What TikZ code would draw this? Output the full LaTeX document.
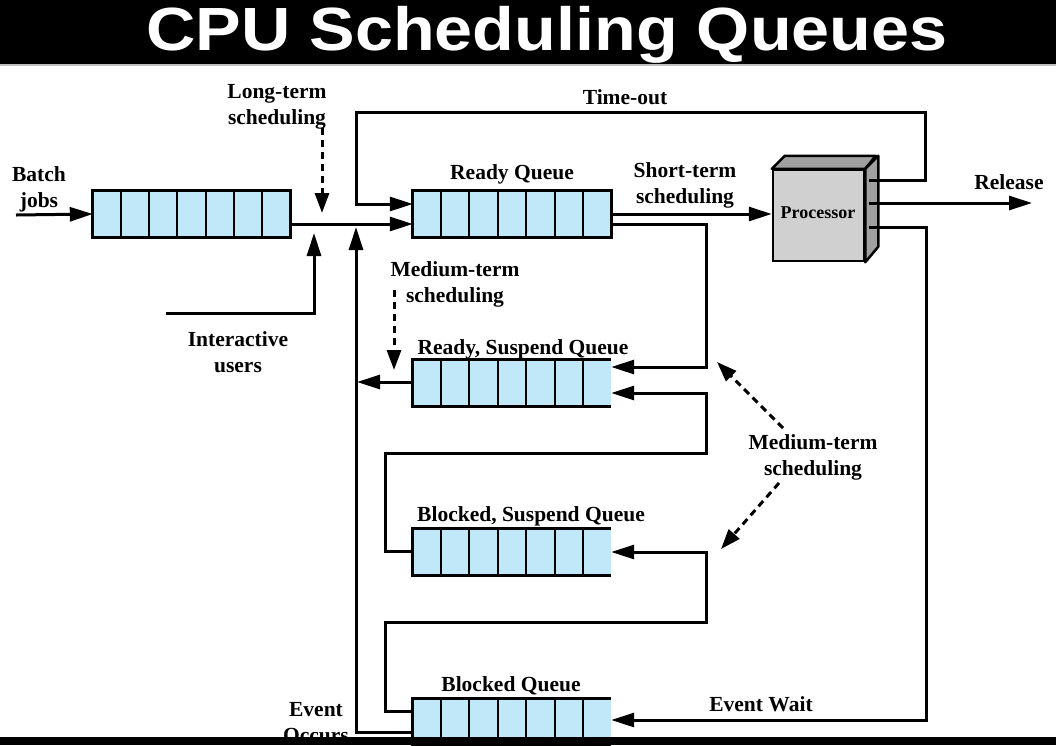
\documentclass[tikz,border=0pt]{standalone}
\usepackage{fontspec}
\setmainfont{Liberation Serif}
\newfontfamily\titlefont{Liberation Sans}
\usetikzlibrary{arrows.meta,calc}
\definecolor{qblue}{RGB}{192,232,248}
\definecolor{procface}{RGB}{208,208,208}
\definecolor{procdark}{RGB}{160,160,160}
\newcommand\qcells[2]{%
  \foreach \i in {1,...,6}
    \draw[line width=2pt] ($(#1.north west)!\i/7!(#1.north east)$) -- ($(#1.south west)!\i/7!(#1.south east)$);
  \draw[line width=3pt, line join=miter] (#1.north east) -- (#1.north west) -- (#1.south west) -- (#1.south east);
  \ifnum#2=1 \draw[line width=3pt] ([yshift=1.5pt]#1.north east) -- ([yshift=-1.5pt]#1.south east);\fi}
\begin{document}
\begin{tikzpicture}[x=1pt,y=-1pt,
  conn/.style={line width=3pt, line join=miter, -{Triangle[length=23pt,width=14pt]}},
  dasharrow/.style={line width=3pt, dash pattern=on 7pt off 5pt, -{Triangle[length=20pt,width=14pt]}},
  lbl/.style={font=\bfseries\fontsize{21.5}{26}\selectfont, align=center, inner sep=0pt},
  queue/.style={fill=qblue, minimum width=198pt, minimum height=46pt, inner sep=0pt, draw=none},
  procbox/.style={fill=procface, draw, line width=2.5pt, minimum width=91pt, minimum height=91pt, inner sep=0pt, font=\bfseries\fontsize{18}{20}\selectfont}]
\useasboundingbox (0,0) rectangle (1056,745);
% title bar
\fill[black] (0,0) rectangle (1056,64);
\draw[gray!50, line width=1.5pt] (0,65) -- (1056,65);
\node[font=\titlefont\bfseries\fontsize{61}{61}\selectfont, text=white, anchor=base, inner sep=0pt, xscale=1.12] (title) at (547,50) {CPU Scheduling Queues};

% queues
\node[queue, minimum width=197pt] (batch) at (191.5,214) {};
\node[queue] (ready) at (512,214) {};
\node[queue] (rsusp) at (512,383) {};
\node[queue] (bsusp) at (512,552) {};
\node[queue] (blocked) at (512,722) {};
\qcells{batch}{1}
\qcells{ready}{1}
\qcells{rsusp}{0}
\qcells{bsusp}{0}
\qcells{blocked}{0}

% processor
\node[procbox] (proc) at (818.5,215.5) {};
\draw[fill=procdark, line width=2.5pt, line join=round] (proc.north west) -- ++(13,-13) -- ++(91,0) -- (proc.north east) -- cycle;
\draw[fill=procdark, line width=2.5pt, line join=round] (proc.north east) -- ++(13,-13) -- ++(0,91) -- (proc.south east) -- cycle;
\node[font=\bfseries\fontsize{18}{20}\selectfont, anchor=base, inner sep=0pt] (proclbl) at (818,218) {Processor};
\coordinate (po1) at (869,180);
\coordinate (po2) at (869,203);
\coordinate (po3) at (869,227);

% coordinates
\coordinate (bj) at (16,215);
\coordinate (rel) at (1032,203);
\coordinate (toR) at (925,112);
\coordinate (toL) at (356,204);
\coordinate (ewR) at (926,720);
\coordinate (iu) at (166,313);
\coordinate (iuT) at (314,233);
\coordinate (eoT) at (356,227);
\coordinate (rsL) at (357,382);
\coordinate (rqD) at (706,367);
\coordinate (bsA) at (385,453);
\coordinate (bsB) at (706,393);
\coordinate (bqA) at (385,622);
\coordinate (bqB) at (706,552);
\coordinate (lt1) at (322,128);
\coordinate (lt2) at (322,213);
\coordinate (mt1) at (394,290);
\coordinate (mt2) at (394,370);
\coordinate (mr1) at (783,428);
\coordinate (mr2) at (717,362);
\coordinate (mr3) at (779,483);
\coordinate (mr4) at (721,549);

% connectors
\draw[conn] (bj) -- (batch.west);
\draw[conn] ([yshift=-10pt]batch.east) -- ([yshift=-10pt]ready.west);
\draw[conn] (po1) -| (toR) -| (toL) -- ([yshift=10pt]ready.west);
\draw[conn] (ready.east) -- (ready.east -| proc.west);
\draw[conn] (po2) -- (rel);
\draw[conn] (po3) -| (ewR) -- ([yshift=2pt]blocked.east);
\draw[conn] ([yshift=-10pt]ready.east) -| (rqD) -- ([yshift=16pt]rsusp.east);
\draw[conn] ([yshift=1pt]bsusp.west) -| (bsA) -| (bsB) -- ([yshift=-10pt]rsusp.east);
\draw[conn] ([yshift=11pt]blocked.west) -| (bqA) -| (bqB) -- (bsusp.east);
\draw[conn] ([yshift=-10pt]blocked.west) -| (eoT);
\draw[conn] ([yshift=1pt]rsusp.west) -- (rsL);
\draw[conn] (iu) -| (iuT);
\draw[dasharrow] (lt1) -- (lt2);
\draw[dasharrow] (mt1) -- (mt2);
\draw[dasharrow] (mr1) -- (mr2);
\draw[dasharrow] (mr3) -- (mr4);

% labels
\node[lbl] (lbatch) at (39,189) {Batch\\jobs};
\node[lbl] (llong) at (277,107) {Long-term\\scheduling};
\node[lbl] (linter) at (238,352) {Interactive\\users};
\node[lbl] (lmed1) at (455,284) {Medium-term\\scheduling};
\node[lbl] (lshort) at (685,185) {Short-term\\scheduling};
\node[lbl] (lmed2) at (813,457) {Medium-term\\scheduling};
\node[lbl] (levent) at (316,723) {Event\\Occurs};
\node[lbl, anchor=base] (lready) at (512,179) {Ready Queue};
\node[lbl, anchor=base] (ltime) at (625,104) {Time-out};
\node[lbl, anchor=base] (lrel) at (1009,189) {Release};
\node[lbl, anchor=base] (lrs) at (523,354) {Ready, Suspend Queue};
\node[lbl, anchor=base] (lbs) at (531,521) {Blocked, Suspend Queue};
\node[lbl, anchor=base] (lbq) at (511,691) {Blocked Queue};
\node[lbl, anchor=base] (lew) at (761,711) {Event Wait};

% bottom bar
\fill[black] (0,737) rectangle (1056,745);
\end{tikzpicture}
\end{document}
